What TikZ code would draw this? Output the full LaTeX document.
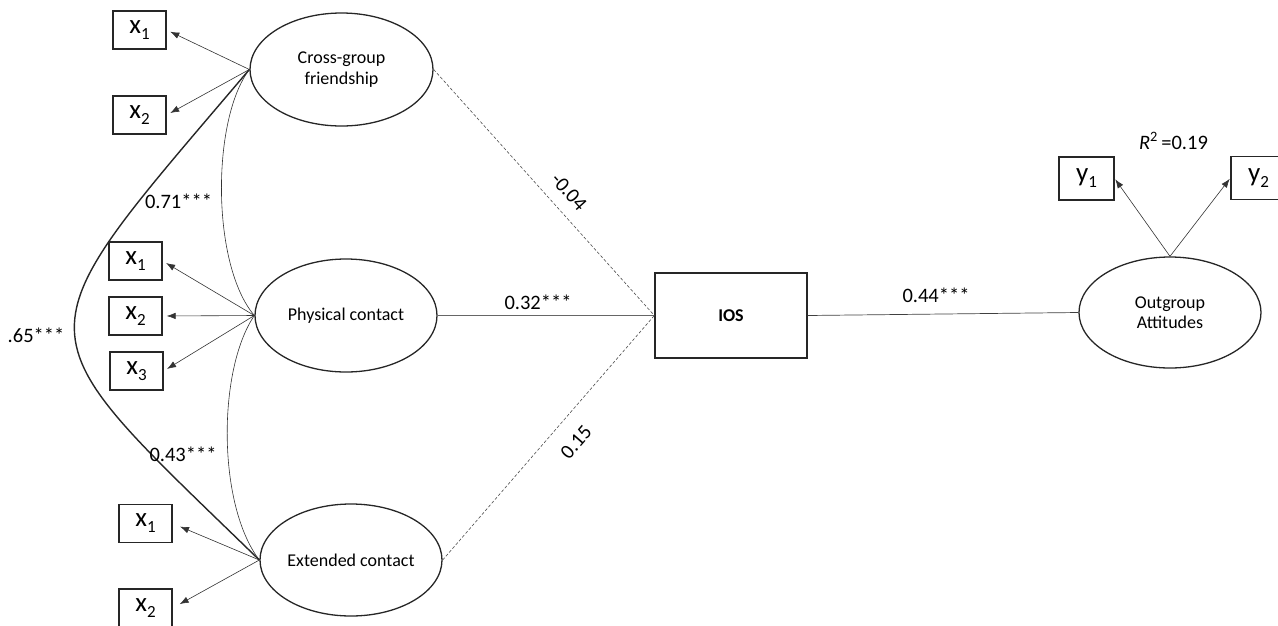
\documentclass[tikz,border=0pt]{standalone}
\usepackage{fontspec}
\setmainfont{Carlito}
\usetikzlibrary{arrows.meta,shapes.geometric}
\newcommand\xsb[2]{{\fontsize{27}{27}\selectfont #1}\raisebox{-6pt}{\fontsize{17}{17}\selectfont #2}}
\begin{document}
\begin{tikzpicture}[x=1pt,y=-1pt,
  latent/.style={ellipse, draw=black!85, line width=1.3pt, inner sep=0pt, align=center, font=\fontsize{18}{20.5}\selectfont},
  indbox/.style={rectangle, draw=black!85, line width=1.3pt, inner sep=0pt, minimum width=53pt, minimum height=38pt},
  loadarrow/.style={-{Latex[length=9pt,width=6.5pt]}, line width=0.6pt, draw=black!80, shorten >=4pt},
  covthin/.style={line width=0.6pt, draw=black!80},
  lbl/.style={font=\fontsize{20.5}{21}\selectfont, inner sep=0pt},
  nspath/.style={dash pattern=on 3pt off 2pt, line width=0.6pt, draw=black!70}
]
\useasboundingbox (0,0) rectangle (1278,625);
% latent variables
\node[latent, minimum width=183pt, minimum height=113pt] (cgf) at (341.5,69.5) {Cross-group\\friendship};
\node[latent, minimum width=182pt, minimum height=113pt] (pc) at (346,315.5) {Physical contact};
\node[latent, minimum width=182pt, minimum height=112pt] (ec) at (351,560) {Extended contact};
\node[rectangle, draw=black!85, line width=1.3pt, minimum width=152pt, minimum height=85pt, font=\fontsize{18}{20}\selectfont\bfseries] (ios) at (731,315.5) {IOS};
\node[latent, minimum width=182pt, minimum height=111pt] (og) at (1170,312.5) {Outgroup\\Attitudes};
% indicators
\node[indbox] (a1) at (139.5,30) {\xsb{x}{1}};
\node[indbox] (a2) at (139.5,115) {\xsb{x}{2}};
\node[indbox] (b1) at (135.5,261) {\xsb{x}{1}};
\node[indbox] (b2) at (135.5,316) {\xsb{x}{2}};
\node[indbox] (b3) at (136.5,371) {\xsb{x}{3}};
\node[indbox] (c1) at (145.5,523.5) {\xsb{x}{1}};
\node[indbox] (c2) at (145.5,608) {\xsb{x}{2}};
\node[indbox, minimum width=55pt, minimum height=43pt] (y1) at (1086.5,178.5) {\xsb{y}{1}};
\node[indbox, minimum width=55pt, minimum height=43pt] (y2) at (1258.5,178) {\xsb{y}{2}};
% loadings
\draw[loadarrow] (cgf.west) -- (a1.east);
\draw[loadarrow] (cgf.west) -- (a2.east);
\draw[loadarrow] (pc.west) -- (b1.east);
\draw[loadarrow] (pc.west) -- (b2.east);
\draw[loadarrow] (pc.west) -- (b3.east);
\draw[loadarrow, shorten >=8pt] (ec.west) -- (c1.east);
\draw[loadarrow, shorten >=8pt] (ec.west) -- (c2.east);
\draw[loadarrow, shorten >=1pt] (og.north) -- (y1.east);
\draw[loadarrow, shorten >=1pt] (og.north) -- (y2.west);
% covariances
\draw[line width=1.4pt, draw=black!85] (cgf.west) .. controls +(-235,277) and +(-245,-238) .. (ec.west);
\draw[covthin] (cgf.west) .. controls +(-38,50.5) and +(-43,-50.5) .. (pc.west);
\draw[covthin] (pc.west) .. controls +(-37,54.5) and +(-42,-55) .. (ec.west);
% paths
\draw[nspath] (cgf.east) -- (ios.west);
\draw[nspath] (ec.east) -- (ios.west);
\draw[line width=0.7pt, draw=black!60] (pc.east) -- (ios.west);
\draw[line width=0.7pt, draw=black!75] (ios.east) -- (og.west);
% labels
\node[lbl] (l71) at (178.5,201) {0.71***};
\node[lbl] (l65) at (36,335) {.65***};
\node[lbl] (l43) at (183,454) {0.43***};
\node[lbl, rotate=-48] (l04) at (569,192) {-0.04};
\node[lbl] (l32) at (538,302) {0.32***};
\node[lbl, rotate=49] (l15) at (576,442) {0.15};
\node[lbl] (l44) at (936,295.5) {0.44***};
\node[lbl] (r2) at (1173.5,141) {\textit{R}\textsuperscript{2}\,=0.19};
\end{tikzpicture}
\end{document}
